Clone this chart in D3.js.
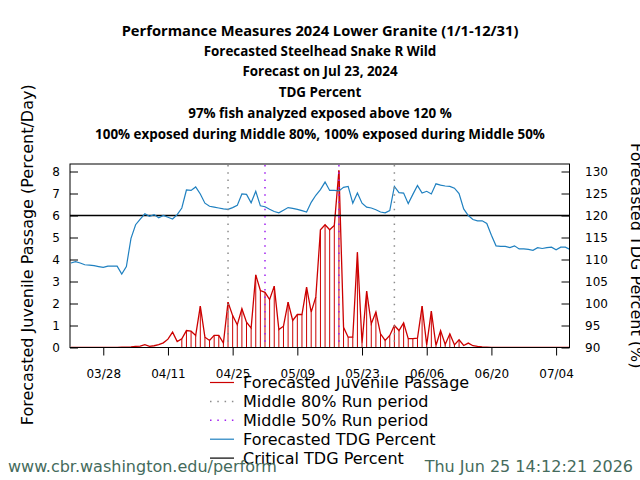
<!DOCTYPE html>
<html>
<head>
<meta charset="utf-8">
<script src="https://cdn.jsdelivr.net/npm/d3@7"></script>
<style>
  body { margin: 0; background: #fff; }
  svg { display: block; }
</style>
</head>
<body>
<svg id="chart" width="640" height="480"></svg>
<script>
// ---------------- DATA ----------------
const titleLines = [
  "Performance Measures 2024 Lower Granite (1/1-12/31)",
  "Forecasted Steelhead Snake R Wild",
  "Forecast on Jul 23, 2024",
  "TDG Percent",
  "97% fish analyzed exposed above 120 %",
  "100% exposed during Middle 80%, 100% exposed during Middle 50%"
];
const startDate = "2024-03-21"; // first daily value
// Forecasted juvenile passage (percent/day), daily from 03/21 to 07/07
const passage = [
  0, 0, 0, 0, 0, 0, 0,
  0, 0, 0, 0.01, 0.02, 0.02, 0.03, 0.05, 0.06, 0.13,
  0.05, 0.08, 0.13, 0.21, 0.38, 0.70, 0.27, 0.40, 0.77, 0.74,
  0.55, 1.88, 0.47, 0.32, 0.55, 0.55, 0.20, 2.06, 1.45, 1.03,
  1.76, 1.15, 0.88, 3.30, 2.59, 2.51, 2.18, 2.79, 0.82, 0.97,
  2.06, 1.23, 1.50, 1.50, 2.74, 1.61, 2.30, 5.35, 5.58, 5.35,
  5.55, 8.05, 0.92, 0.47, 0.47, 4.33, 0.20, 2.56, 1.08, 1.61,
  0.62, 0.32, 0.55, 1.00, 0.77, 1.12, 0.40, 0.40, 0.42, 1.88,
  0.12, 1.65, 0.09, 0.77, 0.14, 0.62, 0.12, 0.35, 0.09, 0.20,
  0.08, 0.05, 0.03, 0.02, 0.01,
  0.01, 0, 0, 0.01, 0, 0, 0, 0.01, 0.01, 0, 0, 0, 0, 0, 0, 0, 0
];
// Forecasted TDG percent, daily from 03/21 to 07/07
const tdg = [
  109.2, 109.5, 109.2, 108.8, 108.7, 108.6, 108.4,
  108.2, 108.5, 108.5, 108.5, 106.7, 108.4, 114.8, 117.9, 119.2, 120.4,
  119.8, 120.2, 119.5, 120.0, 119.6, 119.2, 120.2, 121.7, 125.8, 125.7,
  126.5, 124.9, 122.8, 122.1, 121.9, 121.7, 121.5, 121.4, 121.8, 122.3,
  124.9, 124.8, 122.9, 125.5, 122.2, 122.0, 121.4, 120.9, 120.6, 121.2,
  121.8, 121.6, 121.4, 121.1, 120.8, 123.0, 124.6, 125.9, 127.6, 125.7,
  125.7, 125.6, 126.4, 126.6, 122.8, 125.1, 122.8, 121.9, 121.7, 121.3,
  120.8, 120.6, 121.1, 126.6, 125.2, 125.1, 122.7, 124.8, 126.8, 125.1,
  125.5, 124.9, 127.2, 126.9, 126.7, 126.6, 126.2, 125.0, 121.5, 120.0,
  119.1, 118.8, 118.8, 118.2, 115.5, 113.1, 113.0, 113.0, 112.7, 113.1,
  112.4, 112.4, 112.3, 112.1, 112.7, 112.5, 112.7, 112.8, 112.2, 112.8,
  112.8, 112.3
];
const criticalTDG = 120;
const barStart = "2024-04-14", barEnd = "2024-06-13";
const mid80 = ["2024-04-24", "2024-05-30"];
const mid50 = ["2024-05-02", "2024-05-18"];
const xTickLabels = ["03/28", "04/11", "04/25", "05/09", "05/23", "06/06", "06/20", "07/04"];
const leftTicks = [0, 1, 2, 3, 4, 5, 6, 7, 8];
const rightTicks = [90, 95, 100, 105, 110, 115, 120, 125, 130];
const legendLabels = ["Forecasted Juvenile Passage", "Middle 80% Run period", "Middle 50% Run period", "Forecasted TDG Percent", "Critical TDG Percent"];
const footerLeft = "www.cbr.washington.edu/perform";
const footerRight = "Thu Jun 25 14:12:21 2026";

// ---------------- CHART ----------------
const svg = d3.select("#chart");
const L = 70, R = 569.5, T = 164, B = 347.5;
const DAY = 864e5;
const parse = s => new Date(s + "T00:00:00Z");
const d0 = parse(startDate);
const dates = passage.map((_, i) => d3.utcDay.offset(d0, i));
const rows = dates.map((d, i) => ({ date: d, p: passage[i], t: tdg[i] }));

const x = d3.scaleUtc()
  .domain([new Date(d0.getTime() - 0.2 * DAY), new Date(parse("2024-07-07").getTime() - 0.1 * DAY)])
  .range([L, R]);
const yL = d3.scaleLinear().domain([0, 8]).range([B, B - 176]);
const yR = d3.scaleLinear().domain([90, 130]).range([B, B - 176]);

const font = "DejaVu Sans, Verdana, sans-serif";
const red = "#cc0000", blue = "#1f80c0", grey = "#8c8c8c", purple = "#a020f0";

// Title
svg.append("g").selectAll("text").data(titleLines).join("text")
  .attr("x", 320).attr("y", (d, i) => i === 0 ? 35.5 : 35 + i * 20.7)
  .attr("text-anchor", "middle")
  .attr("font-family", "Open Sans, Noto Sans, sans-serif")
  .attr("font-weight", "bold").attr("font-size", (d, i) => i === 0 ? 14.7 : 13.4)
  .text(d => d);

// clip
svg.append("clipPath").attr("id", "clip").append("rect")
  .attr("x", L).attr("y", T).attr("width", R - L).attr("height", B - T);
const plot = svg.append("g").attr("clip-path", "url(#clip)");

// bars (h-style)
const bs = parse(barStart), be = parse(barEnd);
plot.append("g").selectAll("line").data(rows.filter(r => r.date >= bs && r.date <= be)).join("line")
  .attr("x1", d => x(d.date)).attr("x2", d => x(d.date))
  .attr("y1", yL(0)).attr("y2", d => yL(d.p))
  .attr("stroke", red).attr("stroke-width", 1);

// passage line
plot.append("path").datum(rows)
  .attr("fill", "none").attr("stroke", red).attr("stroke-width", 1.3)
  .attr("d", d3.line().x(d => x(d.date)).y(d => yL(d.p)));

// critical line
plot.append("line").attr("x1", L).attr("x2", R)
  .attr("y1", yR(criticalTDG)).attr("y2", yR(criticalTDG))
  .attr("stroke", "#000").attr("stroke-width", 1.6);

// TDG line
plot.append("path").datum(rows)
  .attr("fill", "none").attr("stroke", blue).attr("stroke-width", 1.2)
  .attr("d", d3.line().x(d => x(d.date)).y(d => yR(d.t)));

// run period lines
const vlines = [
  { d: mid80[0], c: grey }, { d: mid80[1], c: grey },
  { d: mid50[0], c: purple }, { d: mid50[1], c: purple }
];
plot.append("g").selectAll("line").data(vlines).join("line")
  .attr("x1", d => x(parse(d.d))).attr("x2", d => x(parse(d.d)))
  .attr("y1", T + 1).attr("y2", B)
  .attr("stroke", d => d.c).attr("stroke-width", 1.5)
  .attr("stroke-dasharray", "1.5,5.8");

// frame
svg.append("rect").attr("x", L).attr("y", T).attr("width", R - L).attr("height", B - T)
  .attr("fill", "none").attr("stroke", "#000").attr("stroke-width", 1);

// axes
const xTicks = xTickLabels.map(s => parse("2024-" + s.replace("/", "-")));
const xAxis = d3.axisBottom(x).tickValues(xTicks).tickFormat(d3.utcFormat("%m/%d"))
  .tickSize(8).tickPadding(14);
const gx = svg.append("g").attr("transform", `translate(0,${B})`).call(xAxis);
gx.select(".domain").remove();

const gl = svg.append("g").attr("transform", `translate(${L},0)`)
  .call(d3.axisLeft(yL).tickValues(leftTicks).tickSize(-8));
gl.select(".domain").remove();
gl.selectAll(".tick text").attr("x", -10);

const gr = svg.append("g").attr("transform", `translate(${R},0)`)
  .call(d3.axisRight(yR).tickValues(rightTicks).tickSize(-8));
gr.select(".domain").remove();
gr.selectAll(".tick text").attr("x", 15.5);

[gx, gl, gr].forEach(g => {
  g.selectAll("text").attr("font-family", font).attr("font-size", 12).attr("fill", "#000");
  g.selectAll("line").attr("stroke", "#000");
});
gr.selectAll("text").attr("text-anchor", "start");

// axis titles
svg.append("text")
  .attr("transform", `translate(33,${(T + B) / 2 - 1}) rotate(-90)`)
  .attr("text-anchor", "middle").attr("font-family", font).attr("font-size", 16)
  .text("Forecasted Juvenile Passage (Percent/Day)");
svg.append("text")
  .attr("transform", `translate(631,${(T + B) / 2}) rotate(90)`)
  .attr("text-anchor", "middle").attr("font-family", font).attr("font-size", 16)
  .text("Forecasted TDG Percent (%)");

// legend
const legStyles = [
  { c: red, dash: null }, { c: grey, dash: "1.5,5.8" }, { c: purple, dash: "1.5,5.8" },
  { c: blue, dash: null }, { c: "#000", dash: null }
];
const leg = svg.append("g");
legendLabels.forEach((lab, i) => {
  const yy = 382.5 + i * 18.9;
  leg.append("line").attr("x1", 210).attr("x2", 234).attr("y1", yy).attr("y2", yy)
    .attr("stroke", legStyles[i].c).attr("stroke-width", legStyles[i].dash ? 1.5 : 1.2)
    .attr("stroke-dasharray", legStyles[i].dash);
  leg.append("text").attr("x", 243).attr("y", yy + 5.8)
    .attr("font-family", font).attr("font-size", 16).text(lab);
});

// footer
svg.append("text").attr("x", 8).attr("y", 472)
  .attr("font-family", font).attr("font-size", 16).attr("fill", "#456b5c").text(footerLeft);
svg.append("text").attr("x", 633).attr("y", 472).attr("text-anchor", "end")
  .attr("font-family", font).attr("font-size", 16).attr("fill", "#456b5c").text(footerRight);
</script>
</body>
</html>
